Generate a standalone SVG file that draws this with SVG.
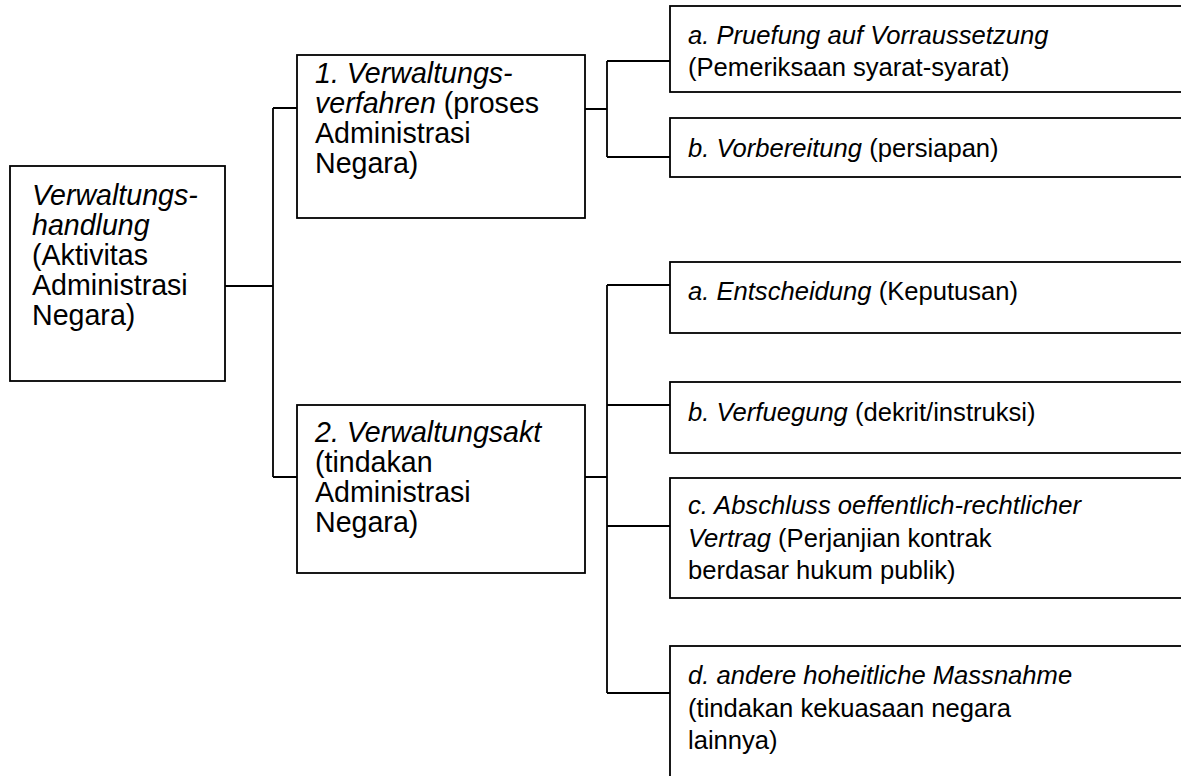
<svg xmlns="http://www.w3.org/2000/svg" width="1181" height="776" viewBox="0 0 1181 776">
<style>
.box{fill:#fff;stroke:#000;stroke-width:1.8}
.ln{fill:none;stroke:#000;stroke-width:1.8}
text{font-family:"Liberation Sans",Arial,sans-serif;fill:#000}
.big{font-size:28.6px}
.sm{font-size:25.6px}
.i{font-style:italic}
</style>
<rect width="1181" height="776" fill="#fff"/>
<g id="connectors">
<path class="ln" d="M225,286H273M273,108V477M273,108H297M273,477H297"/>
<path class="ln" d="M585,109H607M607,61V157M607,61H670M607,157H670"/>
<path class="ln" d="M585,477H607M607,285V693M607,285H670M607,405H670M607,526H670M607,693H670"/>
</g>
<g id="root">
<rect class="box" x="10" y="166" width="215" height="215"/>
<text class="big"><tspan class="i" x="32" y="205">Verwaltungs-</tspan><tspan class="i" x="32" y="235">handlung</tspan><tspan x="32" y="265">(Aktivitas</tspan><tspan x="32" y="295">Administrasi</tspan><tspan x="32" y="325">Negara)</tspan></text>
</g>
<g id="n1">
<rect class="box" x="297" y="55" width="288" height="163"/>
<text class="big"><tspan class="i" x="315" y="83">1. Verwaltungs-</tspan><tspan x="315" y="113"><tspan class="i">verfahren</tspan> (proses</tspan><tspan x="315" y="143">Administrasi</tspan><tspan x="315" y="173">Negara)</tspan></text>
</g>
<g id="n2">
<rect class="box" x="297" y="405" width="288" height="168"/>
<text class="big"><tspan class="i" x="315" y="442">2. Verwaltungsakt</tspan><tspan x="315" y="472">(tindakan</tspan><tspan x="315" y="502">Administrasi</tspan><tspan x="315" y="532">Negara)</tspan></text>
</g>
<g id="n1a">
<rect class="box" x="670" y="6" width="540" height="86"/>
<text class="sm"><tspan class="i" x="688" y="44">a. Pruefung auf Vorraussetzung</tspan><tspan x="688" y="76">(Pemeriksaan syarat-syarat)</tspan></text>
</g>
<g id="n1b">
<rect class="box" x="670" y="118" width="540" height="59"/>
<text class="sm" x="688" y="157"><tspan class="i">b. Vorbereitung</tspan> (persiapan)</text>
</g>
<g id="n2a">
<rect class="box" x="670" y="262" width="540" height="71"/>
<text class="sm" x="688" y="300"><tspan class="i">a. Entscheidung</tspan> (Keputusan)</text>
</g>
<g id="n2b">
<rect class="box" x="670" y="382" width="540" height="71"/>
<text class="sm" x="688" y="421"><tspan class="i">b. Verfuegung</tspan> (dekrit/instruksi)</text>
</g>
<g id="n2c">
<rect class="box" x="670" y="478" width="540" height="120"/>
<text class="sm"><tspan class="i" x="688" y="514">c. Abschluss oeffentlich-rechtlicher</tspan><tspan x="688" y="546.5"><tspan class="i">Vertrag</tspan> (Perjanjian kontrak</tspan><tspan x="688" y="579">berdasar hukum publik)</tspan></text>
</g>
<g id="n2d">
<rect class="box" x="670" y="646" width="540" height="160"/>
<text class="sm"><tspan class="i" x="688" y="684">d. andere hoheitliche Massnahme</tspan><tspan x="688" y="716.5">(tindakan kekuasaan negara</tspan><tspan x="688" y="749">lainnya)</tspan></text>
</g>
</svg>
